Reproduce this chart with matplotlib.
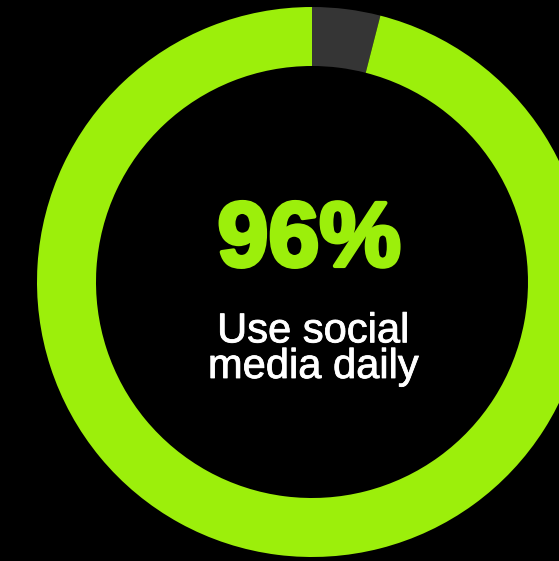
import matplotlib.pyplot as plt
import matplotlib.patheffects as pe

# share of people using social media every day
labels = ['Not daily', 'Daily']
values = [4, 96]
colors = ['#353535', '#9cef0b']

headline = '96%'
caption = ['Use social', 'media daily']

fig = plt.figure(figsize=(5.59, 5.61), dpi=100, facecolor='black')
ax = fig.add_axes([0, 0, 1, 1])
ax.set_facecolor('black')

# donut ring, starting at 12 o'clock and going clockwise
ax.pie(values, colors=colors, startangle=90, counterclock=False,
       center=(312, 279), radius=275, frame=True,
       wedgeprops=dict(width=59, linewidth=0))
ax.set_xlim(0, 559)
ax.set_ylim(0, 561)
ax.set_aspect('equal')
ax.axis('off')

ax.text(309, 295, headline, color='#9cef0b', fontsize=66, fontweight='bold',
        family='Liberation Sans', ha='center', va='baseline',
        path_effects=[pe.withStroke(linewidth=3, foreground='#9cef0b')])
ax.text(313, 183, '\n'.join(caption), color='white', fontsize=30,
        family='Liberation Sans', ha='center', va='baseline',
        multialignment='center', linespacing=0.86,
        path_effects=[pe.withStroke(linewidth=0.6, foreground='white')])

fig.savefig('out.png', dpi=100, facecolor='black')
